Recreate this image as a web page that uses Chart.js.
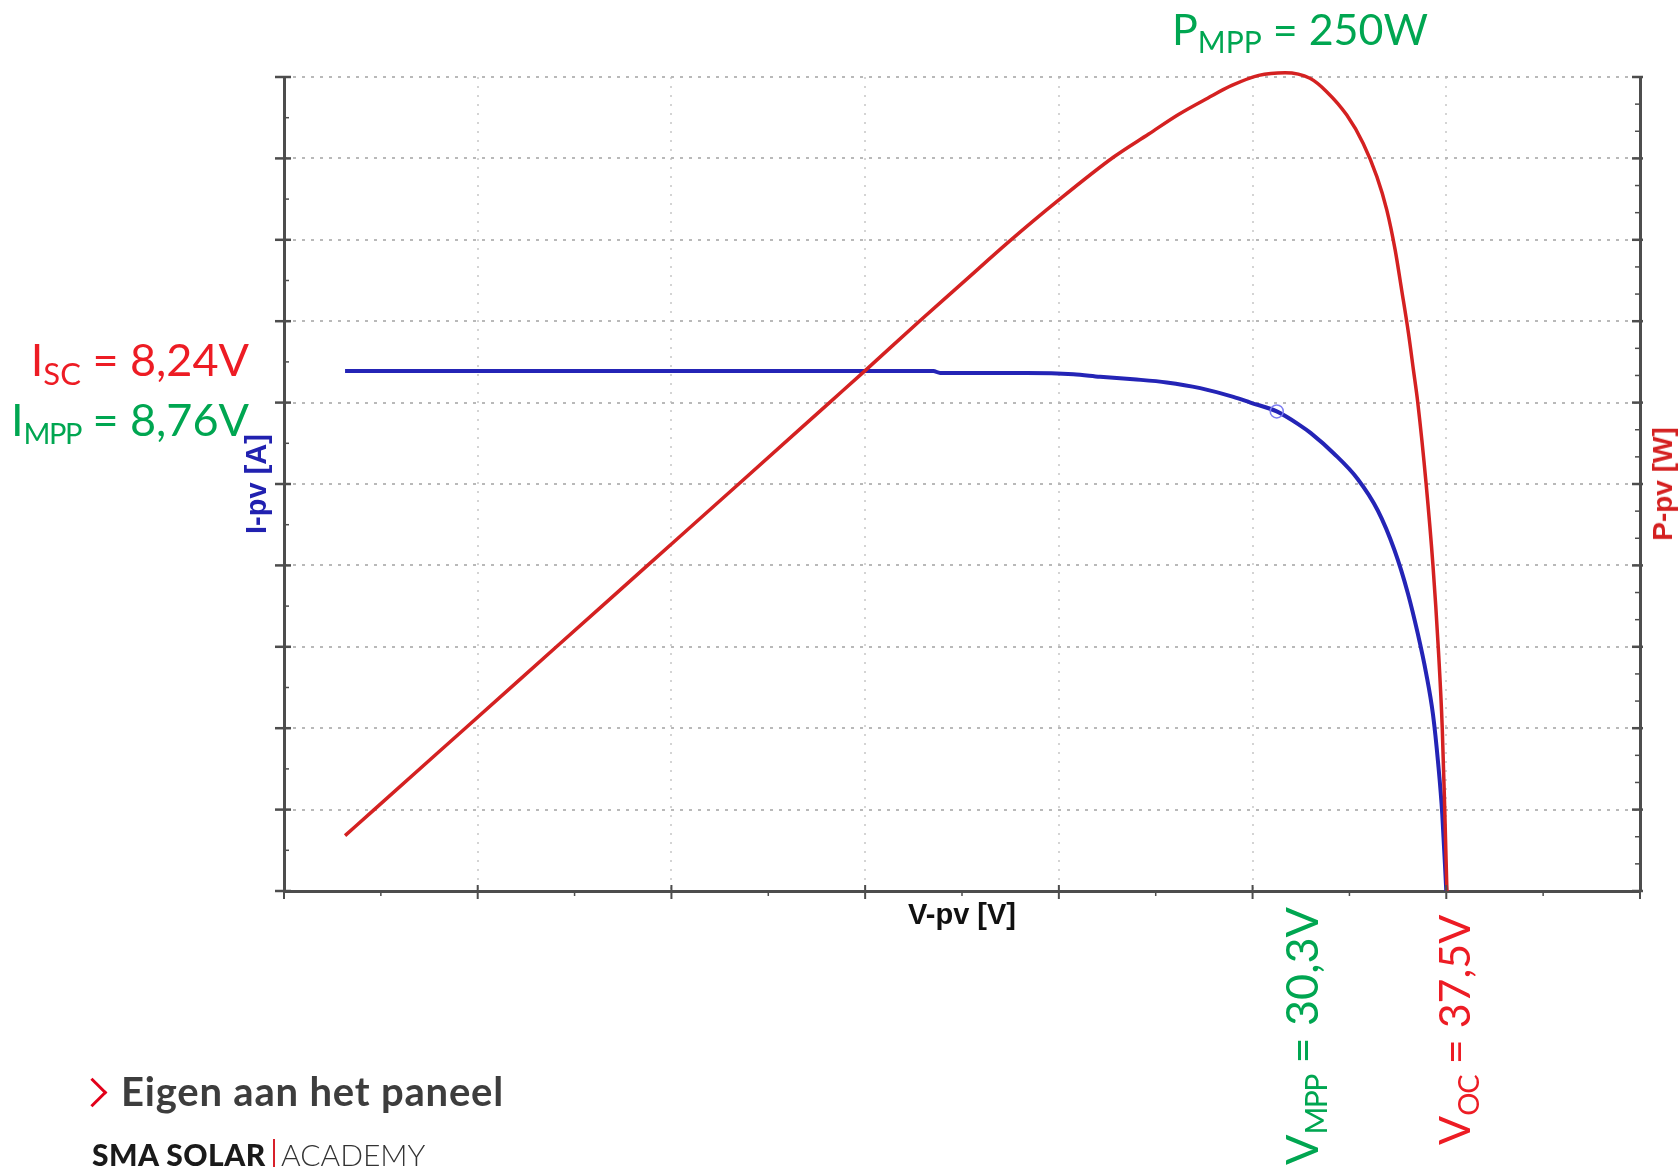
<!DOCTYPE html>
<html>
<head>
<meta charset="utf-8">
<script src="https://cdn.jsdelivr.net/npm/chart.js@4.4.0/dist/chart.umd.min.js"></script>
<style>
  body { margin: 0; background: #fff; }
  #page { position: relative; width: 1680px; height: 1167px; overflow: hidden; background: #fff; }
  #pvChart { position: absolute; left: 0; top: 0; }
  .ann { position: absolute; font-family: Lato, 'Noto Sans', sans-serif; line-height: 1; white-space: nowrap; }
  .green { color: #00a651; }
  .red { color: #ed1c24; }
  .rot { transform-origin: 0 0; transform: rotate(-90deg); }
</style>
</head>
<body>
<div id="page">
  <canvas id="pvChart" width="1680" height="1167"></canvas>

  <div class="ann green" style="left:1172px; top:7px; font-size:43px;">P<span style="font-size:30px; vertical-align:-8px;">MPP</span> = 250W</div>
  <div class="ann red" style="left:0; width:249px; text-align:right; top:337px; font-size:45px;">I<span style="font-size:31px; vertical-align:-9px;">SC</span> = 8,24V</div>
  <div class="ann green" style="left:0; width:249px; text-align:right; top:397px; font-size:45px;">I<span style="font-size:29px; letter-spacing:-1.5px; vertical-align:-8px;">MPP</span> = 8,76V</div>
  <div class="ann green rot" style="left:1279px; top:1165px; font-size:45px;">V<span style="font-size:30px; letter-spacing:-1.5px; vertical-align:-9px;">MPP</span> = 30,3V</div>
  <div class="ann red rot" style="left:1432px; top:1145px; font-size:43px;">V<span style="font-size:29px; letter-spacing:-1px; vertical-align:-9px;">OC</span> = 37,5V</div>

  <div style="position:absolute; left:1663px; top:484px; transform:translate(-50%,-50%) rotate(-90deg); font:bold 28px 'Liberation Sans', Arial, sans-serif; line-height:1; color:#d42020; white-space:nowrap;">P-pv [W]</div>

  <div style="position:absolute; left:82px; top:1082px; width:21px; height:21px; box-sizing:border-box; border-top:3px solid #e2001a; border-right:3px solid #e2001a; transform:rotate(45deg);"></div>
  <div class="ann" style="left:121px; top:1071px; font-size:40px; font-weight:700; color:#3d3d3d; letter-spacing:0.8px;">Eigen aan het paneel</div>
  <div class="ann" style="left:92px; top:1139px; font-size:30px; font-weight:900; color:#1a1a1a; letter-spacing:0.5px;">SMA SOLAR</div>
  <div style="position:absolute; left:273px; top:1139px; width:2px; height:28px; background:#d8202a;"></div>
  <div class="ann" style="left:281px; top:1139px; font-size:30px; font-weight:300; color:#333;">ACADEMY</div>
</div>

<script>
// Waarden (spanning in V, stroom in A, vermogen in W)
const ivVoltage = [1.97, 12.5, 20.95, 21.17, 23.96, 25.47, 26.33, 27.40, 28.48, 29.56, 30.63, 31.18, 32.03, 32.78, 33.12, 33.88, 34.64, 35.29, 35.83, 36.26, 36.58, 36.85, 37.07, 37.24, 37.37, 37.5];
const ivCurrent = [8.24, 8.24, 8.24, 8.21, 8.21, 8.19, 8.15, 8.11, 8.06, 7.97, 7.83, 7.74, 7.60, 7.38, 7.26, 6.93, 6.53, 6.03, 5.40, 4.72, 4.08, 3.45, 2.80, 2.01, 1.22, 0];

const pvVoltage = [1.97, 2.91, 5.85, 8.79, 11.73, 14.67, 17.6, 18.76, 20.5, 21.92, 23.4, 24.93, 26.78, 27.9, 28.86, 29.8, 30.58, 31.45, 32.3, 33.10, 33.64, 34.29, 34.82, 35.26, 35.58, 35.85, 36.06, 36.28, 36.44, 36.58, 36.85, 37.07, 37.24, 37.37, 37.45, 37.52];
const pvPower = [17.0, 25, 50, 75, 100, 125, 150, 159.9, 175, 187, 199.5, 211.7, 225.5, 232.5, 238.5, 243.5, 247.4, 250.5, 251.3, 249.6, 245.5, 238.3, 229.6, 219.4, 209.2, 196.9, 184.6, 171.3, 160.0, 150.0, 125.0, 100.0, 75.0, 50.0, 25.0, 0];

const mppVoltage = [32.03];
const mppCurrent = [7.60];

// asbereiken (geen getallen zichtbaar in het origineel)
const vMax = 43.75, vStep = 6.25;
const iMax = 12.9;
const pMax = 250, pStep = 25;

const axisColor = '#4d4d4d';
const noLine = 'rgba(0,0,0,0)';

// kleine streepjes langs de assen
const axisTicks = {
    id: 'axisTicks',
    afterDraw(chart) {
        const { ctx, chartArea: a, scales } = chart;
        const seg = (x1, y1, x2, y2, w) => {
            ctx.lineWidth = w;
            ctx.beginPath();
            ctx.moveTo(x1, y1);
            ctx.lineTo(x2, y2);
            ctx.stroke();
        };
        ctx.save();
        ctx.strokeStyle = axisColor;
        for (let k = 0; k <= 14; k++) {
            const px = scales.x.getPixelForValue(k * vStep / 2);
            if (k % 2 === 0) seg(px, a.bottom - 6, px, a.bottom + 8, 2);
            else seg(px, a.bottom, px, a.bottom + 5, 1.5);
        }
        for (let k = 0; k <= 20; k++) {
            const py = scales.y.getPixelForValue(k * iMax / 20);
            if (k % 2 === 0) seg(a.left - 9, py, a.left + 7, py, 2.5);
            else seg(a.left, py, a.left + 5, py, 1.5);
        }
        for (let k = 0; k <= 30; k++) {
            const py = scales.y1.getPixelForValue(k * pStep / 3);
            if (k % 3 === 0) seg(a.right - 8, py, a.right + 3, py, 2.5);
            else seg(a.right - 5, py, a.right, py, 1.5);
        }
        ctx.restore();
    }
};

const ctx = document.getElementById('pvChart').getContext('2d');
const pvChart = new Chart(ctx, {
    type: 'line',
    data: {
        datasets: [
            {
                label: 'MPP',
                data: mppVoltage.map((v, i) => ({ x: v, y: mppCurrent[i] })),
                yAxisID: 'y',
                showLine: false,
                pointRadius: 6.5,
                pointBorderWidth: 1.5,
                pointBorderColor: '#7d7df2',
                pointBackgroundColor: 'rgba(0,0,0,0)',
                order: 0
            },
            {
                label: 'P-pv',
                data: pvVoltage.map((v, i) => ({ x: v, y: pvPower[i] })),
                yAxisID: 'y1',
                borderColor: '#d42121',
                borderWidth: 3.5,
                pointRadius: 0,
                cubicInterpolationMode: 'monotone',
                clip: 10,
                order: 1
            },
            {
                label: 'I-pv',
                data: ivVoltage.map((v, i) => ({ x: v, y: ivCurrent[i] })),
                yAxisID: 'y',
                borderColor: '#2424b6',
                borderWidth: 4,
                pointRadius: 0,
                cubicInterpolationMode: 'monotone',
                clip: 10,
                order: 2
            }
        ]
    },
    options: {
        responsive: false,
        animation: false,
        devicePixelRatio: 1,
        layout: { padding: { left: 240.9, right: 40, top: 77, bottom: 233.6 } },
        plugins: {
            legend: { display: false },
            tooltip: { enabled: false }
        },
        scales: {
            x: {
                type: 'linear',
                position: 'bottom',
                min: 0,
                max: vMax,
                ticks: { display: false, stepSize: vStep },
                grid: {
                    drawTicks: false,
                    lineWidth: 2,
                    color: (c) => (c.tick && (c.tick.value === 0 || c.tick.value === vMax)) ? noLine : '#d4d4d4'
                },
                border: { color: axisColor, width: 3, dash: [2, 7] },
                title: {
                    display: true,
                    text: 'V-pv [V]',
                    color: '#111',
                    font: { family: 'Liberation Sans', size: 29, weight: 'bold' },
                    padding: { top: 7.6, bottom: 0 }
                }
            },
            y: {
                type: 'linear',
                position: 'left',
                min: 0,
                max: iMax,
                ticks: { display: false },
                grid: { drawOnChartArea: false, drawTicks: false },
                border: { color: axisColor, width: 3 },
                title: {
                    display: true,
                    text: 'I-pv [A]',
                    color: '#2121b0',
                    font: { family: 'Liberation Sans', size: 29, weight: 'bold' },
                    padding: { top: 0, bottom: 8.3 }
                }
            },
            y1: {
                type: 'linear',
                position: 'right',
                min: 0,
                max: pMax,
                ticks: { display: false, stepSize: pStep },
                grid: {
                    drawTicks: false,
                    lineWidth: 2,
                    color: (c) => (c.tick && c.tick.value === 0) ? noLine : '#b9b9b9'
                },
                border: { color: axisColor, width: 3, dash: [3, 6] }
            }
        }
    },
    plugins: [axisTicks]
});
</script>
</body>
</html>
